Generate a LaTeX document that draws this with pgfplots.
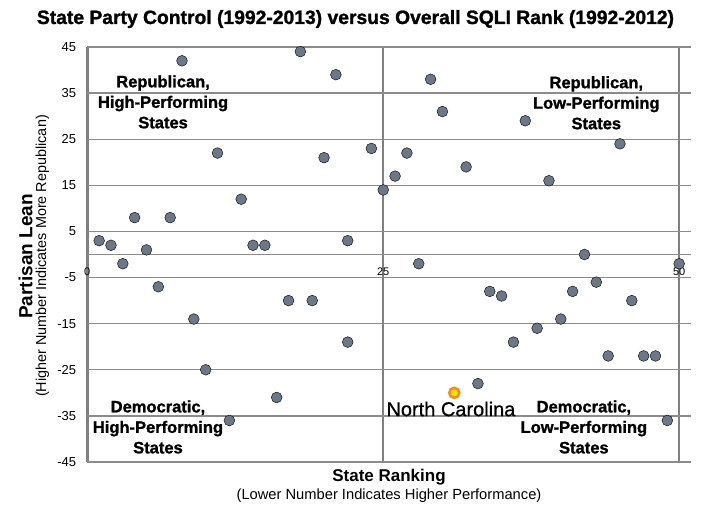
\documentclass[border=0pt]{standalone}
\usepackage{fontspec}
\setmainfont{Liberation Sans}
\newfontfamily\heavy{Liberation Sans}[BoldFeatures={FakeBold=1.3}]
\newfontfamily\semi{Liberation Sans}[FakeBold=0.6]
\usepackage{pgfplots}
\pgfplotsset{compat=1.18}
\definecolor{dot}{RGB}{108,120,136}
\definecolor{gridc}{RGB}{140,140,140}
\definecolor{vlin}{RGB}{128,128,128}
\definecolor{ncring}{RGB}{245,140,30}
\definecolor{ncfill}{RGB}{255,228,0}

\begin{document}
\begin{tikzpicture}[x=1pt,y=1pt]
\useasboundingbox (0,0) rectangle (708,514);
\begin{axis}[
  at={(87.3pt,52pt)}, anchor=south west,
  scale only axis, width=603.7pt, height=415pt,
  xmin=0, xmax=51, ymin=-45, ymax=45,
  xtick={0,25,50}, xticklabels={},
  ytick={-45,-35,...,45},
  axis line style={draw=none},
  major tick length=0pt,
  xmajorgrids, ymajorgrids,
  x grid style={vlin, line width=2.4pt},
  y grid style={gridc, line width=1.3pt},
  extra y ticks={0}, extra y tick labels={},
  extra y tick style={ymajorgrids=true, major grid style={vlin, line width=3.6pt}},
  yticklabel style={anchor=east, xshift=-11pt, inner sep=0pt,
    font=\fontsize{13}{14}\selectfont},
  /pgf/number format/assume math mode=true,
  clip=false,
]
\addplot[only marks, mark=*, mark size=5.4pt, mark options={fill=dot, draw=none}]
  table {
  x  y
  1  3
  2  2
  3  -2
  4  8
  5  1
  6  -7
  7  8
  8  42
  9  -14
  10 -25
  11 22
  12 -36
  13 12
  14 2
  15 2
  16 -31
  17 -10
  18 44
  19 -10
  20 21
  21 39
  22 3
  22 -19
  24 23
  25 14
  26 17
  27 22
  28 -2
  29 38
  30 31
  32 19
  33 -28
  34 -8
  35 -9
  36 -19
  37 29
  38 -16
  39 16
  40 -14
  41 -8
  42 0
  43 -6
  44 -22
  45 24
  46 -10
  47 -22
  48 -22
  49 -36
  50 -2
  };
% North Carolina
\addplot[only marks, mark=*, mark size=5pt,
  mark options={fill=ncfill, draw=ncring, line width=2.6pt}]
  coordinates {(31,-30)};

\node[font=\fontsize{11}{12}\selectfont] at (axis cs:0,-3.7) {0};
\node[font=\fontsize{11}{12}\selectfont] at (axis cs:25,-3.7) {25};
\node[font=\fontsize{11}{12}\selectfont] at (axis cs:50,-3.7) {50};

\node[font=\fontsize{16.5}{20.5}\selectfont\heavy\bfseries, align=center]
  at (axis cs:6.4,33.1) {Republican,\\High-Performing\\States};
\node[font=\fontsize{16.5}{20.5}\selectfont\heavy\bfseries, align=center]
  at (axis cs:43.0,32.9) {Republican,\\Low-Performing\\States};
\node[font=\fontsize{16.5}{20.5}\selectfont\heavy\bfseries, align=center]
  at (axis cs:5.97,-37.4) {Democratic,\\High-Performing\\States};
\node[font=\fontsize{16.5}{20.5}\selectfont\heavy\bfseries, align=center]
  at (axis cs:41.95,-37.4) {Democratic,\\Low-Performing\\States};
\node[font=\fontsize{20}{22}\selectfont\semi] at (axis cs:30.72,-33.5) {North Carolina};
\end{axis}

\node[font=\fontsize{19.3}{22}\selectfont\heavy\bfseries] at (355.5,495) {State Party Control (1992-2013) versus Overall SQLI Rank (1992-2012)};
\node[font=\fontsize{17}{20}\selectfont\bfseries] at (389,37) {State Ranking};
\node[font=\fontsize{14.7}{17}\selectfont] at (389,18) {(Lower Number Indicates Higher Performance)};
\node[font=\fontsize{19}{22}\selectfont\bfseries, rotate=90] at (25.5,257.5) {Partisan Lean};
\node[font=\fontsize{14.4}{17}\selectfont, rotate=90] at (42.5,258) {(Higher Number Indicates More Republican)};
\end{tikzpicture}
\end{document}
